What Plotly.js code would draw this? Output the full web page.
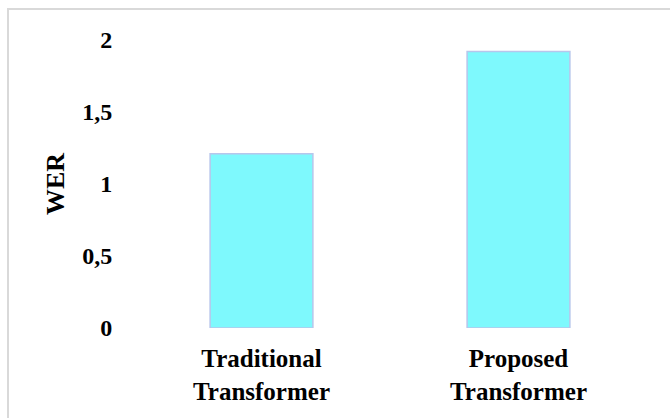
<!DOCTYPE html>
<html>
<head>
<meta charset="utf-8">
<script src="https://cdn.plot.ly/plotly-3.0.1.min.js"></script>
<style>
  html, body { margin: 0; padding: 0; background: #ffffff; }
  #wrap { position: relative; width: 670px; height: 418px; overflow: hidden; }
  #chart { position: absolute; left: 0; top: 0; width: 670px; height: 418px; }
  #frame { position: absolute; left: 7px; top: 8px; width: 720px; height: 460px;
           border-left: 2px solid #d9d9d9; border-top: 2px solid #d9d9d9; pointer-events: none; }
</style>
</head>
<body>
<div id="wrap">
  <div id="chart"></div>
  <div id="frame"></div>
</div>
<script>
// Data
var categories = ["Traditional<br>Transformer", "Proposed<br>Transformer"];
var werValues = [1.21, 1.92];
var yTickValues = [0, 0.5, 1, 1.5, 2];
var yTickLabels = ["0", "0,5", "1", "1,5", "2"];
var yAxisTitle = "WER";

var FONT = "'Liberation Serif', 'Times New Roman', serif";

var trace = {
  type: "bar",
  x: categories,
  y: werValues,
  marker: {
    color: "#7ef9fd",
    line: { color: "#b7c6ec", width: 1.5 }
  },
  hoverinfo: "skip"
};

var layout = {
  width: 670,
  height: 418,
  margin: { l: 133, r: 23, t: 40, b: 90 },
  paper_bgcolor: "rgba(0,0,0,0)",
  plot_bgcolor: "rgba(0,0,0,0)",
  bargap: 0.6,
  showlegend: false,
  font: { family: FONT, color: "#000000" },
  xaxis: {
    type: "category",
    range: [-0.5, 1.5],
    showline: false,
    showgrid: false,
    zeroline: false,
    ticks: "outside",
    ticklen: 8,
    tickcolor: "rgba(0,0,0,0)",
    tickfont: { family: FONT, size: 25, color: "#000000", weight: "bold" },
    automargin: false
  },
  yaxis: {
    range: [0, 2],
    tickvals: yTickValues,
    ticktext: yTickLabels,
    showline: false,
    showgrid: false,
    zeroline: false,
    ticks: "outside",
    ticklen: 15,
    tickcolor: "rgba(0,0,0,0)",
    tickfont: { family: FONT, size: 24, color: "#000000", weight: "bold" },
    title: { text: "<b>" + yAxisTitle + "</b>", font: { family: FONT, size: 26, color: "#000000" }, standoff: 10 },
    automargin: false
  }
};

Plotly.newPlot("chart", [trace], layout, { staticPlot: true, displayModeBar: false });
</script>
</body>
</html>
